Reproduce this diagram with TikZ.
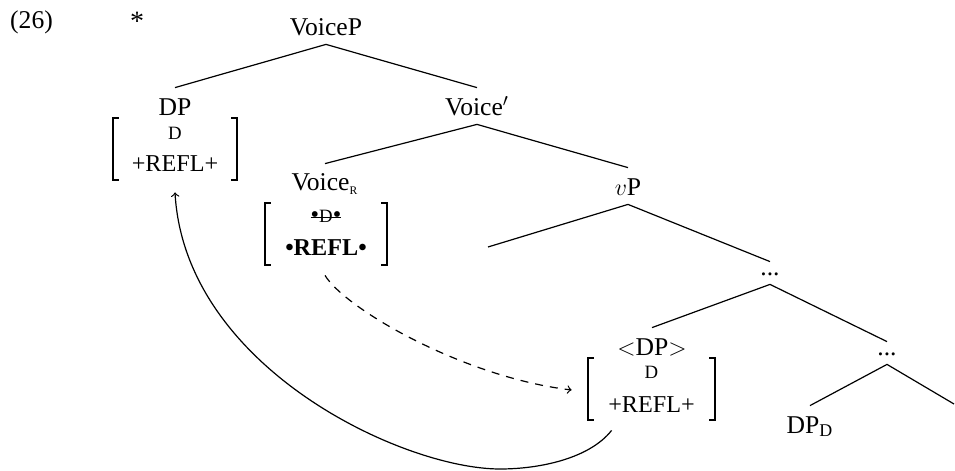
\documentclass[tikz,border=0pt]{standalone}
\usepackage{fontspec}
\setmainfont{Liberation Serif}
\usetikzlibrary{calc}

% feature-matrix sizes
\newcommand\featsize{\fontsize{12.1}{13}\selectfont}
\newcommand\smallD{{\fontsize{9.4}{10}\selectfont D}}

% struck-out feature
\newsavebox\strikebox
\newcommand\struck[1]{\sbox\strikebox{#1}\rlap{\rule[0.45ex]{\wd\strikebox}{0.5pt}}\usebox\strikebox}

% square brackets on the left and right sides of a node
\newcommand\bracketsaround[1]{%
  \draw[brk] ($(#1.north west)+(6,0)$) -- (#1.north west) -- (#1.south west) -- ($(#1.south west)+(6,0)$);
  \draw[brk] ($(#1.north east)+(-6,0)$) -- (#1.north east) -- (#1.south east) -- ($(#1.south east)+(-6,0)$);}

\begin{document}
\begin{tikzpicture}[x=0.5pt, y=-0.5pt,
  every node/.style={inner sep=0pt, anchor=base, font=\fontsize{12.8}{14}\selectfont},
  cat/.style={text height=13.5pt, text depth=4.5pt},
  dots/.style={text height=6.5pt, text depth=4.5pt},
  feat/.style={font=\featsize},
  brbox/.style={anchor=center, minimum width=#1, minimum height=31pt},
  branch/.style={line width=0.6pt},
  brk/.style={line width=1pt},
  move/.style={line width=0.6pt, ->}
]
\useasboundingbox (0,0) rectangle (955,471);

% example number and judgement
\node (exnum) at (31.5,28) {(26)};
\node[font=\fontsize{14}{14}\selectfont] (star) at (137,31) {*};

% category labels
\node[cat] (VoiceP) at (326,35) {VoiceP};
\node[cat] (DP) at (175,115) {DP};
\node[cat] (Voicebar) at (477,115) {Voice$'$};
\node[cat] (VoiceR) at (325,191) {Voice\textsubscript{\fontsize{5.8}{6}\selectfont R}};
\node[cat] (vP) at (628,195) {$v$P};
\node[dots] (dotsA) at (770,275) {...};
\node[cat] (DPlow) at (652,355) {$<$DP$>$};
\node[dots] (dotsB) at (887,355) {...};
\node[cat] (DPD) at (810,433) {DP\textsubscript{D}};

% loose branch ends
\coordinate (vPleft) at (488,247);
\coordinate (dotsBright) at (954,404);

% feature matrices
\node[brbox=62pt] (DPm) at (175,149) {};
\node[feat] (DPmD) at ($(DPm.north)+(0,22)$) {\smallD};
\node[feat] (DPmR) at ($(DPm.north)+(0,54)$) {+REFL+};
\bracketsaround{DPm}

\node[brbox=61pt] (VRm) at (326,234) {};
\node[feat] (VRmD) at ($(VRm.north)+(0,20)$) {\struck{•\smallD•}};
\node[feat] (VRmR) at ($(VRm.north)+(0,53)$) {\textbf{•REFL•}};
\bracketsaround{VRm}

\node[brbox=63.5pt] (DPlm) at (651.5,389) {};
\node[feat] (DPlmD) at ($(DPlm.north)+(0,21)$) {\smallD};
\node[feat] (DPlmR) at ($(DPlm.north)+(0,55)$) {+REFL+};
\bracketsaround{DPlm}

% branches
\draw[branch] (VoiceP.south) -- (DP.north);
\draw[branch] (VoiceP.south) -- (Voicebar.north);
\draw[branch] (Voicebar.south) -- (VoiceR.north);
\draw[branch] (Voicebar.south) -- (vP.north);
\draw[branch] (vP.south) -- (vPleft);
\draw[branch] (vP.south) -- (dotsA.north);
\draw[branch] (dotsA.south) -- (DPlow.north);
\draw[branch] (dotsA.south) -- (dotsB.north);
\draw[branch] (dotsB.south) -- (DPD.north);
\draw[branch] (dotsB.south) -- (dotsBright);

% agreement arrows
\draw[move, dash pattern=on 4pt off 3.5pt]
  ($(VRm.south)+(-1,10)$) .. controls +(20,33) and +(-109,-13) .. ($(DPlm.west)+(-16,1)$);
\draw[move]
  ($(DPlm.south west)+(24,10)$) .. controls +(-22,28) and +(40,0) .. (500,469)
  .. controls +(-97,0) and +(10,175) .. ($(DPm.south)+(0,12)$);
\end{tikzpicture}
\end{document}
